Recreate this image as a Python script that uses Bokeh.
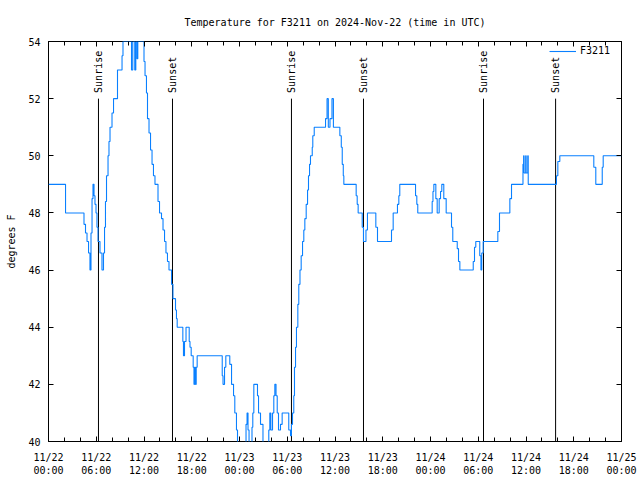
from bokeh.plotting import figure
from bokeh.models import Range1d, FixedTicker, LinearAxis, Legend, LegendItem, ColumnDataSource
from bokeh.core.properties import value
from bokeh.embed import file_html
from bokeh.resources import INLINE

title_text = "Temperature for F3211 on 2024-Nov-22 (time in UTC)"
station = "F3211"
y_label = "degrees F"

tick_hours = [0, 6, 12, 18, 24, 30, 36, 42, 48, 54, 60, 66, 72]
tick_labels = ["11/22\n00:00", "11/22\n06:00", "11/22\n12:00", "11/22\n18:00",
               "11/23\n00:00", "11/23\n06:00", "11/23\n12:00", "11/23\n18:00",
               "11/24\n00:00", "11/24\n06:00", "11/24\n12:00", "11/24\n18:00",
               "11/25\n00:00"]
minor_tick_hours = list(range(0, 73, 2))
y_ticks = [40, 42, 44, 46, 48, 50, 52, 54]

# hours since 2024-11-22 00:00 UTC, temperature (F) from that moment on
hours = [0.00, 2.14, 4.46, 4.65, 4.84, 5.03, 5.21, 5.34, 5.47, 5.59, 5.72, 5.84,
         5.97, 6.09, 6.22, 6.47, 6.72, 6.91, 7.04, 7.16, 7.29, 7.48, 7.60, 7.73,
         7.98, 8.17, 8.67, 9.24, 9.36, 10.43, 10.59, 10.84, 10.97, 11.12,
         11.22, 12.00, 12.13, 12.31, 12.44, 12.63, 12.82, 13.01, 13.19,
         13.38, 13.76, 13.95, 14.20, 14.39, 14.58, 14.76, 14.95, 15.14, 15.46,
         15.64, 15.96, 16.08, 16.17, 16.88, 16.96, 17.09, 17.28, 17.68, 17.78,
         17.93, 18.18, 18.28, 18.35, 18.47, 18.56, 18.68, 21.83, 21.93, 22.12,
         22.28, 22.78, 23.00, 23.25, 23.41, 23.62, 23.75, 24.82, 24.95, 25.07,
         25.20, 25.57, 25.67, 25.80, 26.26, 26.39, 26.64, 26.95, 27.68, 27.81,
         27.94, 28.15, 28.31, 28.44, 28.59, 28.74, 28.90, 29.15, 29.36, 30.19,
         30.41, 30.53, 30.66, 30.82, 30.91, 31.04, 31.16, 31.33, 31.45, 31.60,
         31.75, 31.92, 32.08, 32.21, 32.38, 32.55, 32.67, 32.80, 32.92, 33.14,
         33.21, 33.39, 34.81, 35.00, 35.16, 35.37, 35.62, 35.80, 36.61, 36.79,
         36.91, 37.04, 37.11, 38.66, 38.79, 38.91, 39.42, 39.58, 39.89, 40.08,
         41.13, 41.34, 43.10, 43.31, 43.85, 44.02, 44.14, 46.12, 46.28, 46.40,
         48.21, 48.31, 48.42, 48.67, 48.84, 49.09, 49.26, 49.42, 49.67, 49.97,
         50.64, 50.80, 51.36, 51.52, 51.69, 53.37, 53.53, 53.69, 54.19, 54.34,
         54.44, 54.62, 56.46, 56.67, 57.97, 58.18, 59.62, 59.70, 59.76, 59.96,
         60.02, 60.22, 60.28, 63.83, 64.00, 64.25, 68.52, 68.77, 69.58, 69.70,
         72.00]
temps = [49.0, 48.0, 47.6, 47.3, 47.0, 46.6, 46.0, 47.3, 48.5, 49.0, 48.6, 48.3,
         48.0, 47.5, 47.0, 46.6, 46.0, 46.6, 47.5, 48.4, 49.3, 50.0, 50.5, 51.0,
         51.5, 52.0, 53.0, 53.5, 54.0, 53.0, 54.0, 53.0, 54.0, 53.4,
         54.0, 53.3, 52.8, 52.2, 51.3, 50.8, 50.2, 49.7, 49.3,
         49.0, 48.4, 48.0, 47.8, 47.4, 47.0, 46.6, 46.3, 46.0, 45.5,
         45.0, 44.6, 44.3, 44.0, 43.5, 43.0, 43.5, 44.0, 43.5, 43.3,
         43.0, 42.6, 42.0, 42.6, 42.0, 42.6, 43.0, 42.3, 42.0, 42.6,
         43.0, 42.7, 42.0, 41.6, 41.0, 40.4, 39.5, 40.6, 41.0, 40.4,
         39.5, 40.5, 41.0, 42.0, 41.6, 41.0, 40.6, 39.5, 40.4, 41.0,
         40.4, 41.0, 41.6, 42.0, 41.6, 41.0, 40.4, 40.6, 41.0, 40.4,
         40.2, 40.6, 41.0, 41.6, 42.6, 43.3, 44.0, 44.8, 45.5, 46.0,
         46.5, 47.0, 47.4, 47.8, 48.3, 48.8, 49.3, 49.7, 50.0, 50.3,
         50.7, 51.0, 51.3, 52.0, 51.0, 51.3, 52.0, 51.0, 50.7, 50.3,
         49.7, 49.3, 49.0, 48.6, 48.3, 48.0, 47.5, 47.0, 47.4, 48.0,
         47.5, 47.0, 47.4, 48.0, 48.3, 48.6, 49.0, 48.6, 48.3, 48.0,
         48.4, 48.75, 49.0, 48.5, 48.0, 48.5, 48.75, 49.0, 48.5, 48.0,
         47.5, 47.0, 46.75, 46.3, 46.0, 46.3, 46.8, 47.0, 46.5, 46.0,
         46.6, 47.0, 47.35, 48.0, 48.5, 49.0, 49.7, 50.0, 49.4, 50.0,
         49.4, 50.0, 49.0, 49.3, 49.8, 50.0, 49.6, 49.0, 49.6, 50.0,
         50.0]

sun_event_hours = [6.28, 15.58, 30.53, 39.58, 54.66, 63.72]
sun_event_names = ["Sunrise", "Sunset", "Sunrise", "Sunset", "Sunrise", "Sunset"]
sun_line_top = 52.0
sun_label_base = 52.2

FONT = "DejaVu Sans Mono"
FS = "10px"
LINE_COLOR = "#0a80ff"

p = figure(frame_width=573, frame_height=400, output_backend="svg", toolbar_location=None,
           x_range=Range1d(0, 72), y_range=Range1d(40, 54),
           min_border_left=48, min_border_right=19, min_border_top=40, min_border_bottom=40)
p.background_fill_color = "white"
p.border_fill_color = "white"
p.outline_line_color = "black"
p.outline_line_width = 1
p.grid.visible = False

p.title.text = title_text
p.title.align = "center"
p.title.text_font = FONT
p.title.text_font_size = FS
p.title.text_font_style = "normal"
p.title.text_color = "black"
p.title.standoff = 28

xt = FixedTicker(ticks=tick_hours, minor_ticks=minor_tick_hours)
yt = FixedTicker(ticks=y_ticks, minor_ticks=[])

xa = p.xaxis[0]
xa.ticker = xt
xa.major_label_overrides = {h: lab for h, lab in zip(tick_hours, tick_labels)}
ya = p.yaxis[0]
ya.ticker = yt
ya.axis_label = y_label

for ax in (xa, ya):
    ax.axis_line_color = None
    ax.major_tick_in = 5
    ax.major_tick_out = 0
    ax.minor_tick_in = 4
    ax.minor_tick_out = 0
    ax.major_tick_line_color = "black"
    ax.minor_tick_line_color = "black"
    ax.major_label_text_font = FONT
    ax.major_label_text_font_size = FS
    ax.major_label_text_color = "black"
    ax.axis_label_text_font = FONT
    ax.axis_label_text_font_size = FS
    ax.axis_label_text_font_style = "normal"
    ax.axis_label_text_color = "black"
xa.major_label_standoff = 10
ya.major_label_standoff = 8
ya.axis_label_standoff = 8

top = LinearAxis(ticker=xt, major_label_text_font_size="0px", axis_line_color=None,
                 major_tick_in=5, major_tick_out=0, minor_tick_in=4, minor_tick_out=0,
                 major_label_standoff=0, axis_label_standoff=0)
top.major_label_overrides = {h: "" for h in tick_hours}
right = LinearAxis(ticker=yt, major_label_text_font_size="0px", axis_line_color=None,
                   major_tick_in=5, major_tick_out=0, minor_tick_in=0, minor_tick_out=0,
                   major_label_standoff=0, axis_label_standoff=0)
right.major_label_overrides = {v: "" for v in y_ticks}
p.add_layout(top, "above")
p.add_layout(right, "right")

sun_src = ColumnDataSource(dict(x=sun_event_hours, y0=[40] * len(sun_event_hours),
                                y1=[sun_line_top] * len(sun_event_hours),
                                yl=[sun_label_base] * len(sun_event_hours),
                                name=sun_event_names))
p.segment(x0="x", y0="y0", x1="x", y1="y1", source=sun_src, line_color="black", line_width=1)
p.text(x="x", y="yl", text="name", source=sun_src, angle=1.5708, text_align="left",
       text_baseline="middle", text_font=value(FONT), text_font_size=value(FS),
       text_color="black")

r = p.step(x=hours, y=temps, mode="after", line_color=LINE_COLOR, line_width=1.1)

legend = Legend(items=[LegendItem(label=station, renderers=[r])],
                location="top_right", padding=0, margin=4, spacing=0,
                glyph_width=27, glyph_height=10, label_height=10, label_width=37,
                label_standoff=4, label_text_font=FONT,
                label_text_font_size=FS, label_text_color="black",
                border_line_color=None, background_fill_alpha=0)
p.add_layout(legend)

open("out.html", "w").write(file_html(p, INLINE))
